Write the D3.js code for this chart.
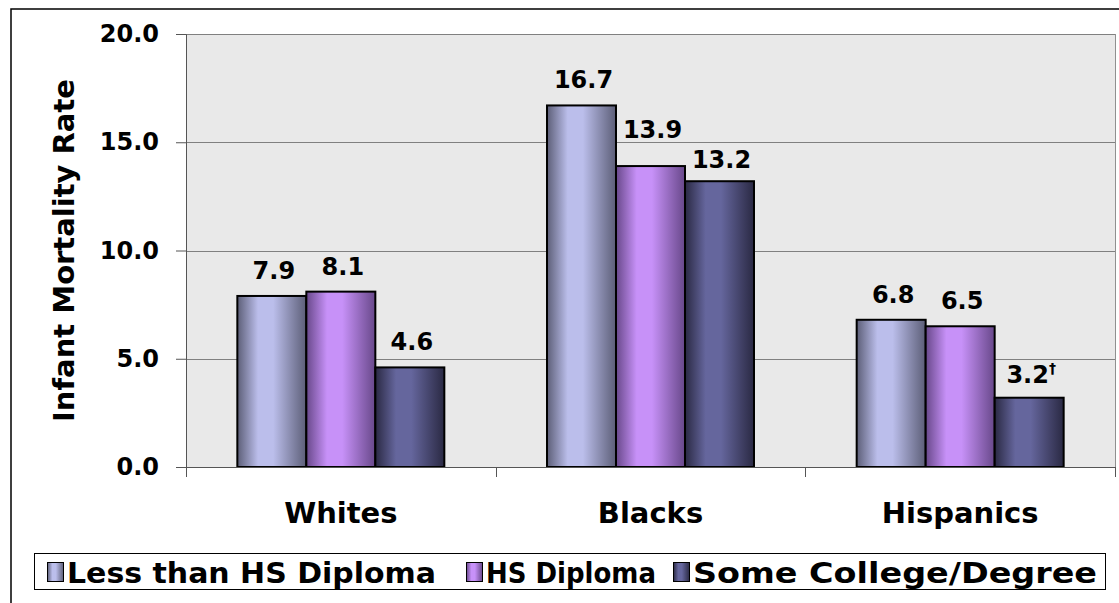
<!DOCTYPE html>
<html>
<head>
<meta charset="utf-8">
<script src="https://cdn.jsdelivr.net/npm/d3@7/dist/d3.min.js"></script>
<style>
  html, body { margin: 0; padding: 0; background: #ffffff; }
  svg { display: block; }
  text { font-family: "DejaVu Sans", Verdana, sans-serif; font-weight: bold; fill: #000; }
</style>
</head>
<body>
<svg id="chart" width="1119" height="603"></svg>
<script>
// Infant mortality rate by mother's education and race/ethnicity
const groups = ["Whites", "Blacks", "Hispanics"];
const seriesNames = ["Less than HS Diploma", "HS Diploma", "Some College/Degree"];
const lessThanHS = [7.9, 16.7, 6.8];
const hsDiploma = [8.1, 13.9, 6.5];
const someCollege = [4.6, 13.2, 3.2];
const seriesValues = [lessThanHS, hsDiploma, someCollege];
const valueNotes = [["", "", ""], ["", "", ""], ["", "", "\u2020"]];
const yTicks = [0, 5, 10, 15, 20];

// label gap above each bar top (px), per series then group
const labelGap = [[17, 17, 17], [17, 28, 17], [17, 13, 15]];

// gradient colours per series: [edge, highlight]
const shades = [["#5c5e77", "#bbbeeb"], ["#68488a", "#c791f8"], ["#2a2943", "#65669d"]];

const svg = d3.select("#chart");
const plot = { left: 186, top: 34, right: 1115, bottom: 467 };

const y = d3.scaleLinear().domain([0, 20]).range([plot.bottom, plot.top]);
const x0 = d3.scaleBand().domain(groups).range([plot.left, plot.right]).paddingInner(0).paddingOuter(0);
const x1 = d3.scaleBand().domain(seriesNames).range([0, x0.bandwidth()]).paddingInner(0).paddingOuter(0.744);

// gradients
const defs = svg.append("defs");
shades.forEach((c, i) => {
  const g = defs.append("linearGradient").attr("id", "grad" + i)
    .attr("x1", "0%").attr("x2", "100%").attr("y1", "0%").attr("y2", "0%");
  g.append("stop").attr("offset", "0%").attr("stop-color", c[0]);
  g.append("stop").attr("offset", "30%").attr("stop-color", c[1]);
  g.append("stop").attr("offset", "52%").attr("stop-color", c[1]);
  g.append("stop").attr("offset", "100%").attr("stop-color", c[0]);
});

// outer chart frame
svg.append("rect").attr("x", 11).attr("y", 9).attr("width", 1130).attr("height", 620)
  .attr("fill", "none").attr("stroke", "#000").attr("stroke-width", 1.5);

// plot background
svg.append("rect").attr("x", plot.left).attr("y", plot.top)
  .attr("width", plot.right - plot.left).attr("height", plot.bottom - plot.top)
  .attr("fill", "#e9e9e9");

// gridlines
svg.append("g").selectAll("line").data(yTicks.filter(d => d > 0)).join("line")
  .attr("x1", plot.left).attr("x2", plot.right)
  .attr("y1", d => Math.round(y(d)) + 0.5).attr("y2", d => Math.round(y(d)) + 0.5)
  .attr("stroke", "#808080").attr("stroke-width", 1);

// right plot edge
svg.append("line").attr("x1", plot.right + 0.5).attr("x2", plot.right + 0.5)
  .attr("y1", plot.top).attr("y2", plot.bottom).attr("stroke", "#909090");

// y axis
const yAxis = d3.axisLeft(y).tickValues(yTicks).tickFormat(d3.format(".1f")).tickSize(10).tickPadding(17);
const gy = svg.append("g").attr("transform", `translate(${plot.left},0)`).call(yAxis);
gy.select(".domain").attr("stroke", "#555");
gy.selectAll(".tick line").attr("stroke", "#555");
gy.selectAll(".tick text").attr("font-size", 24).attr("font-family", "DejaVu Sans").attr("font-weight", "bold");

// bars
const barG = svg.append("g");
groups.forEach((grp, gi) => {
  seriesNames.forEach((s, si) => {
    const v = seriesValues[si][gi];
    const bx = x0(grp) + x1(s);
    barG.append("rect")
      .attr("x", bx).attr("y", y(v))
      .attr("width", x1.bandwidth()).attr("height", y(0) - y(v))
      .attr("fill", `url(#grad${si})`)
      .attr("stroke", "#000").attr("stroke-width", 2);
    const t = barG.append("text")
      .attr("x", bx + x1.bandwidth() / 2 + 2).attr("y", y(v) - labelGap[si][gi])
      .attr("text-anchor", "middle").attr("font-size", 24)
      .text(d3.format(".1f")(v));
    const note = valueNotes[si][gi];
    if (note) {
      t.append("tspan").attr("font-size", 14).attr("dy", -10).text(note);
    }
  });
});

// x axis
const xAxis = d3.axisBottom(x0).tickSize(0).tickPadding(0).tickFormat(() => "");
const gx = svg.append("g").attr("transform", `translate(0,${plot.bottom})`).call(xAxis);
gx.select(".domain").attr("stroke", "#555");
// category separators
const seps = groups.map(g => x0(g)).concat([plot.right]);
svg.append("g").selectAll("line").data(seps).join("line")
  .attr("x1", d => Math.round(d) + 0.5).attr("x2", d => Math.round(d) + 0.5)
  .attr("y1", plot.bottom).attr("y2", plot.bottom + 10)
  .attr("stroke", "#555");
svg.append("g").selectAll("text").data(groups).join("text")
  .attr("x", d => x0(d) + x0.bandwidth() / 2).attr("y", 523)
  .attr("text-anchor", "middle").attr("font-size", 29)
  .text(d => d);

// y title
svg.append("text")
  .attr("transform", `translate(74,${(plot.top + plot.bottom) / 2}) rotate(-90)`)
  .attr("text-anchor", "middle").attr("font-size", 29)
  .text("Infant Mortality Rate");

// legend
const legend = svg.append("g");
legend.append("rect").attr("x", 34.5).attr("y", 553.5).attr("width", 1071).attr("height", 36)
  .attr("fill", "#fff").attr("stroke", "#000").attr("stroke-width", 1);
const legendX = [47, 466, 673];
const legendLen = [369, 170, 404];
seriesNames.forEach((s, i) => {
  legend.append("rect").attr("x", legendX[i] + 0.5).attr("y", 562.5).attr("width", 16).attr("height", 19)
    .attr("fill", `url(#grad${i})`).attr("stroke", "#000").attr("stroke-width", 1);
  legend.append("text").attr("x", legendX[i] + 20).attr("y", 583)
    .attr("font-size", 29)
    .attr("textLength", legendLen[i]).attr("lengthAdjust", "spacingAndGlyphs")
    .text(s);
});
</script>
</body>
</html>
